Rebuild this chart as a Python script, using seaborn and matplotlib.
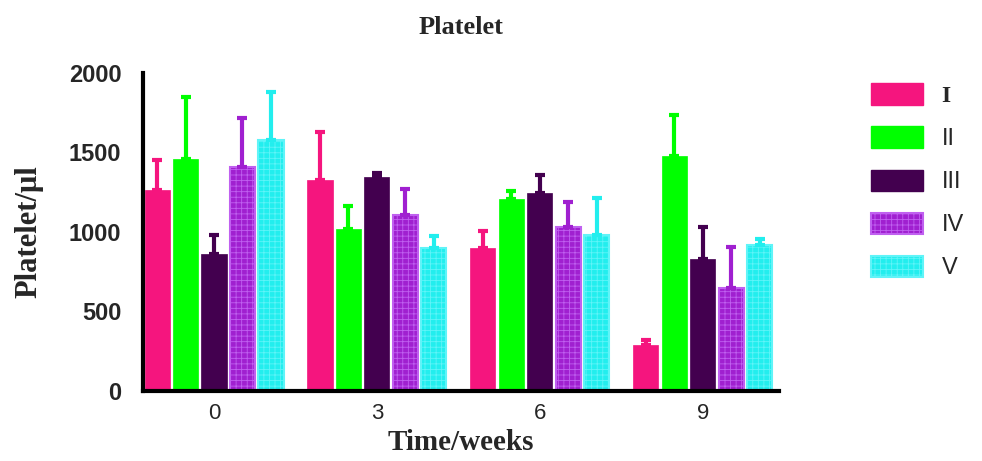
import pandas as pd
import numpy as np
import matplotlib
matplotlib.use('Agg')
import matplotlib.pyplot as plt
import seaborn as sns

# values
weeks = ['0', '3', '6', '9']
groups = ['I', 'II', 'III', 'IV', 'V']
mean_I = [1264, 1325, 897, 289]
mean_II = [1459, 1021, 1208, 1480]
mean_III = [862, 1342, 1247, 832]
mean_IV = [1405, 1104, 1033, 650]
mean_V = [1579, 897, 981, 918]
err_I = [190, 306, 111, 32]
err_II = [392, 144, 52, 256]
err_III = [119, 27, 112, 201]
err_IV = [310, 164, 158, 254]
err_V = [300, 80, 231, 38]

colors = ['#F5157E', '#00FF00', '#43004F', '#A020D0', '#22EEEE']

means = [mean_I, mean_II, mean_III, mean_IV, mean_V]
errs = [err_I, err_II, err_III, err_IV, err_V]

rows = []
for g, m, e in zip(groups, means, errs):
    for w, v, s in zip(weeks, m, e):
        rows.append({'Week': w, 'Group': g, 'Platelet': v, 'SD': s})
df = pd.DataFrame(rows)

sns.set_style('white')
plt.rcParams['hatch.linewidth'] = 0.6

fig = plt.figure(figsize=(9.82, 4.61), dpi=100)
ax = fig.add_axes([0.1456, 0.152, 0.6474, 0.690])

sns.barplot(data=df, x='Week', y='Platelet', hue='Group', order=weeks,
            hue_order=groups, palette=colors, errorbar=None, width=0.874,
            gap=0.12, saturation=1, ax=ax, legend=False)

hatch_styles = {3: ('+++', '#C060F0'), 4: ('+++', '#60F4F8')}

bar_containers = list(ax.containers)
for i, cont in enumerate(bar_containers):
    for bar, e in zip(cont, errs[i]):
        if i in hatch_styles:
            h, ec = hatch_styles[i]
            bar.set_hatch(h)
            bar.set_edgecolor(ec)
            bar.set_linewidth(1.5)
        else:
            bar.set_edgecolor(colors[i])
            bar.set_linewidth(0.5)
        x = bar.get_x() + bar.get_width() / 2
        top = bar.get_height()
        ax.errorbar(x, top, yerr=[[0], [e]], fmt='none', ecolor=colors[i],
                    elinewidth=3, capsize=3.8, capthick=3, zorder=1)

ax.set_ylim(0, 2000)
ax.set_xlim(-0.436, 3.466)
ax.set_yticks([0, 500, 1000, 1500, 2000])
sns.despine(ax=ax)
for s in ['left', 'bottom']:
    ax.spines[s].set_linewidth(3)
    ax.spines[s].set_color('black')
ax.tick_params(axis='y', length=9.5, width=3, direction='out', pad=6)
ax.tick_params(axis='x', length=0, pad=9)
for lab in ax.get_yticklabels():
    lab.set_fontfamily('Liberation Sans')
    lab.set_fontweight('bold')
    lab.set_fontsize(17)
for lab in ax.get_xticklabels():
    lab.set_fontfamily('Liberation Sans')
    lab.set_fontsize(16)

ax.set_title('Platelet', fontfamily='Liberation Serif', fontweight='bold',
             fontsize=19, pad=28)
ax.set_ylabel('Platelet/μl', fontfamily='Liberation Serif', fontweight='bold',
              fontsize=22, labelpad=18)
ax.set_xlabel('Time/weeks', fontfamily='Liberation Serif', fontweight='bold',
              fontsize=21, labelpad=3)

handles = []
for i, c in enumerate(colors):
    if i in hatch_styles:
        h, ec = hatch_styles[i]
        p = matplotlib.patches.Patch(facecolor=c, edgecolor=ec, hatch=h, linewidth=1.5)
    else:
        p = matplotlib.patches.Patch(facecolor=c, edgecolor=c)
    handles.append(p)
leg = fig.legend(handles, groups, loc='upper left', bbox_to_anchor=(0.865, 0.865),
                 frameon=False, fontsize=17, handlelength=2.2, handleheight=1.0,
                 labelspacing=0.82, handletextpad=0.8)
for t in leg.get_texts():
    t.set_fontfamily('Liberation Sans')
leg.get_texts()[0].set_fontfamily('Liberation Serif')
leg.get_texts()[0].set_fontweight('bold')

fig.savefig('out.png', dpi=100)
